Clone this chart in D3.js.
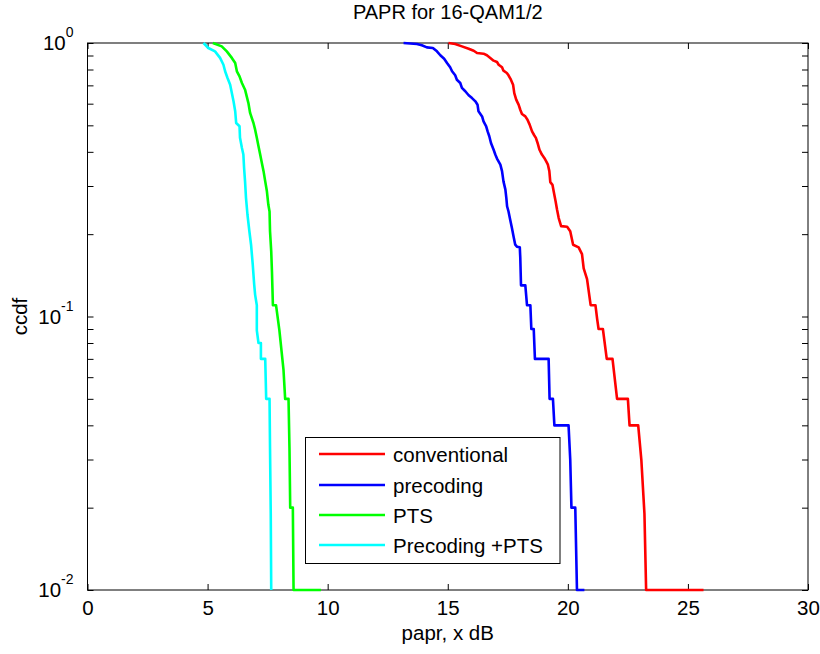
<!DOCTYPE html>
<html>
<head>
<meta charset="utf-8">
<script src="https://cdn.jsdelivr.net/npm/d3@7"></script>
<style>
  html, body { margin: 0; padding: 0; background: #fff; }
  svg { display: block; font-family: "Liberation Sans", Arial, sans-serif; }
</style>
</head>
<body>
<svg id="chart" width="820" height="654"></svg>
<script>
// CCDF of PAPR for four schemes: [papr in dB, ccdf]
const conventional = [
  [15.03,1.0],[15.31,0.992],[15.59,0.972],[15.87,0.953],[16.08,0.937],[16.22,0.919],[16.49,0.914],
  [16.63,0.902],[16.77,0.882],[16.91,0.862],[17.05,0.852],[17.12,0.833],[17.26,0.815],[17.32,0.792],
  [17.46,0.777],[17.53,0.762],[17.63,0.734],[17.72,0.704],[17.77,0.656],[17.85,0.621],[17.95,0.595],
  [18.02,0.570],[18.09,0.550],[18.23,0.539],[18.32,0.524],[18.41,0.503],[18.51,0.475],[18.60,0.460],
  [18.67,0.450],[18.74,0.431],[18.82,0.407],[18.92,0.391],[19.02,0.380],[19.10,0.369],[19.17,0.359],
  [19.23,0.340],[19.27,0.310],[19.36,0.303],[19.41,0.287],[19.49,0.264],[19.55,0.246],[19.62,0.229],
  [19.72,0.214],[19.97,0.213],[20.10,0.205],[20.22,0.183],[20.45,0.179],[20.59,0.169],[20.66,0.150],
  [20.80,0.137],[20.95,0.11],[21.15,0.11],[21.22,0.098],[21.28,0.09],[21.46,0.09],[21.62,0.07],
  [21.86,0.07],[22.05,0.05],[22.50,0.05],[22.57,0.04],[22.93,0.04],[23.06,0.03],[23.19,0.019],
  [23.26,0.01],[25.65,0.01]
];

const precoding = [
  [13.16,1.0],[13.72,0.992],[13.92,0.981],[14.13,0.964],[14.38,0.959],[14.55,0.932],[14.69,0.902],
  [14.85,0.876],[14.97,0.845],[15.10,0.815],[15.18,0.788],[15.31,0.762],[15.38,0.734],[15.52,0.714],
  [15.59,0.685],[15.73,0.666],[15.87,0.644],[16.01,0.629],[16.15,0.612],[16.24,0.595],[16.28,0.563],
  [16.43,0.539],[16.49,0.517],[16.60,0.496],[16.66,0.475],[16.73,0.456],[16.80,0.431],[16.91,0.407],
  [16.98,0.391],[17.05,0.378],[17.19,0.359],[17.26,0.340],[17.32,0.312],[17.40,0.291],[17.44,0.271],
  [17.47,0.253],[17.53,0.242],[17.60,0.226],[17.67,0.211],[17.74,0.196],[17.81,0.183],[17.88,0.180],
  [18.00,0.179],[18.02,0.164],[18.05,0.13],[18.23,0.13],[18.30,0.11],[18.44,0.11],[18.48,0.09],
  [18.58,0.09],[18.63,0.07],[19.20,0.07],[19.24,0.05],[19.38,0.05],[19.44,0.04],[20.03,0.04],
  [20.10,0.03],[20.15,0.02],[20.31,0.02],[20.38,0.01],[20.69,0.01]
];

const pts = [
  [5.22,1.0],[5.59,0.972],[5.80,0.932],[6.01,0.882],[6.15,0.845],[6.22,0.788],[6.33,0.755],
  [6.43,0.714],[6.56,0.675],[6.63,0.638],[6.70,0.603],[6.77,0.555],[6.91,0.510],[6.98,0.482],
  [7.05,0.450],[7.12,0.419],[7.19,0.391],[7.26,0.364],[7.33,0.340],[7.40,0.312],[7.47,0.287],
  [7.53,0.256],[7.58,0.242],[7.60,0.205],[7.65,0.173],[7.68,0.146],[7.70,0.127],[7.72,0.110],
  [7.85,0.110],[7.99,0.089],[8.16,0.064],[8.23,0.05],[8.37,0.05],[8.41,0.033],[8.44,0.02],
  [8.55,0.02],[8.58,0.01],[9.72,0.01]
];

const precodingPts = [
  [4.83,1.0],[5.03,0.959],[5.31,0.932],[5.52,0.882],[5.66,0.833],[5.73,0.788],[5.83,0.745],
  [5.94,0.704],[6.01,0.656],[6.08,0.612],[6.15,0.563],[6.19,0.510],[6.33,0.496],[6.35,0.450],
  [6.43,0.413],[6.49,0.391],[6.52,0.349],[6.56,0.312],[6.60,0.271],[6.66,0.236],[6.74,0.205],
  [6.81,0.183],[6.88,0.155],[6.94,0.131],[6.98,0.120],[7.05,0.110],[7.05,0.089],[7.12,0.080],
  [7.22,0.080],[7.22,0.07],[7.40,0.07],[7.44,0.05],[7.58,0.05],[7.60,0.033],[7.63,0.019],
  [7.65,0.01]
];

const seriesNames = ["conventional", "precoding", "PTS", "Precoding +PTS"];
const seriesColors = ["#ff0000", "#0000ff", "#00ff00", "#00ffff"];
const seriesData = [conventional, precoding, pts, precodingPts];

const xTicks = [0, 5, 10, 15, 20, 25, 30];
const yMajorTicks = [1, 0.1, 0.01];
const yMajorExponents = ["0", "-1", "-2"];
const yMinorTicks = [0.02,0.03,0.04,0.05,0.06,0.07,0.08,0.09,0.2,0.3,0.4,0.5,0.6,0.7,0.8,0.9];

const titleText = "PAPR for 16-QAM1/2";
const xLabelText = "papr, x dB";
const yLabelText = "ccdf";

// ---- layout ----
const plot = { left: 87.5, right: 808, top: 43, bottom: 590 };
const tickLen = 6;
const fontSize = 20.5;

const svg = d3.select("#chart");

const x = d3.scaleLinear().domain([0, 30]).range([plot.left, plot.right]);
const y = d3.scaleLog().domain([0.01, 1]).range([plot.bottom, plot.top]);

// axes (ticks point inward, labels on bottom/left only)
const gx = svg.append("g").attr("transform", `translate(0,${plot.bottom})`)
  .call(d3.axisBottom(x).tickValues(xTicks).tickSizeInner(-tickLen).tickSizeOuter(0).tickPadding(10));
gx.select(".domain").remove();
gx.selectAll("text").attr("font-size", fontSize).attr("font-family", "Liberation Sans, Arial, sans-serif").attr("fill", "#000");
gx.selectAll("line").attr("stroke", "#000");

const gxTop = svg.append("g").attr("transform", `translate(0,${plot.top})`)
  .call(d3.axisTop(x).tickValues(xTicks).tickSizeInner(-tickLen).tickSizeOuter(0).tickFormat(""));
gxTop.select(".domain").remove();
gxTop.selectAll("line").attr("stroke", "#000");

const yAllTicks = yMajorTicks.concat(yMinorTicks);
const gy = svg.append("g").attr("transform", `translate(${plot.left},0)`)
  .call(d3.axisLeft(y).tickValues(yAllTicks).tickSizeInner(-tickLen).tickSizeOuter(0).tickFormat(""));
gy.select(".domain").remove();
gy.selectAll("line").attr("stroke", "#000");

const gyR = svg.append("g").attr("transform", `translate(${plot.right},0)`)
  .call(d3.axisRight(y).tickValues(yAllTicks).tickSizeInner(-tickLen).tickSizeOuter(0).tickFormat(""));
gyR.select(".domain").remove();
gyR.selectAll("line").attr("stroke", "#000");

// y tick labels as 10 with superscript exponent
yMajorTicks.forEach((v, i) => {
  const t = svg.append("text")
    .attr("x", plot.left - 14)
    .attr("y", y(v) + 7)
    .attr("text-anchor", "end")
    .attr("font-size", fontSize)
    .attr("fill", "#000");
  t.append("tspan").text("10");
  t.append("tspan").attr("dy", -13).attr("font-size", 14).text(yMajorExponents[i]);
});

// box
svg.append("rect")
  .attr("x", plot.left).attr("y", plot.top)
  .attr("width", plot.right - plot.left).attr("height", plot.bottom - plot.top)
  .attr("fill", "none").attr("stroke", "#000").attr("stroke-width", 1);

// curves
const line = d3.line().x(d => x(d[0])).y(d => y(d[1]));
seriesData.forEach((data, i) => {
  svg.append("path")
    .datum(data)
    .attr("d", line)
    .attr("fill", "none")
    .attr("stroke", seriesColors[i])
    .attr("stroke-width", 2.6)
    .attr("stroke-linejoin", "round");
});

// title and axis labels
svg.append("text")
  .attr("x", (plot.left + plot.right) / 2).attr("y", 19)
  .attr("text-anchor", "middle").attr("font-size", 20).attr("fill", "#000")
  .text(titleText);

svg.append("text")
  .attr("x", (plot.left + plot.right) / 2).attr("y", 640)
  .attr("text-anchor", "middle").attr("font-size", fontSize).attr("fill", "#000")
  .text(xLabelText);

svg.append("text")
  .attr("transform", `translate(27,${(plot.top + plot.bottom) / 2}) rotate(-90)`)
  .attr("text-anchor", "middle").attr("font-size", fontSize).attr("fill", "#000")
  .text(yLabelText);

// legend
const legend = { x: 305.5, y: 437.5, w: 254.5, h: 126, rowY: [454, 485, 515, 545] };
svg.append("rect")
  .attr("x", legend.x).attr("y", legend.y).attr("width", legend.w).attr("height", legend.h)
  .attr("fill", "#fff").attr("stroke", "#000").attr("stroke-width", 1);

seriesNames.forEach((name, i) => {
  const ry = legend.rowY[i];
  svg.append("line")
    .attr("x1", 319).attr("x2", 385).attr("y1", ry).attr("y2", ry)
    .attr("stroke", seriesColors[i]).attr("stroke-width", 2.6);
  svg.append("text")
    .attr("x", 393).attr("y", ry + 7.5)
    .attr("font-size", fontSize).attr("fill", "#000")
    .text(name);
});
</script>
</body>
</html>
